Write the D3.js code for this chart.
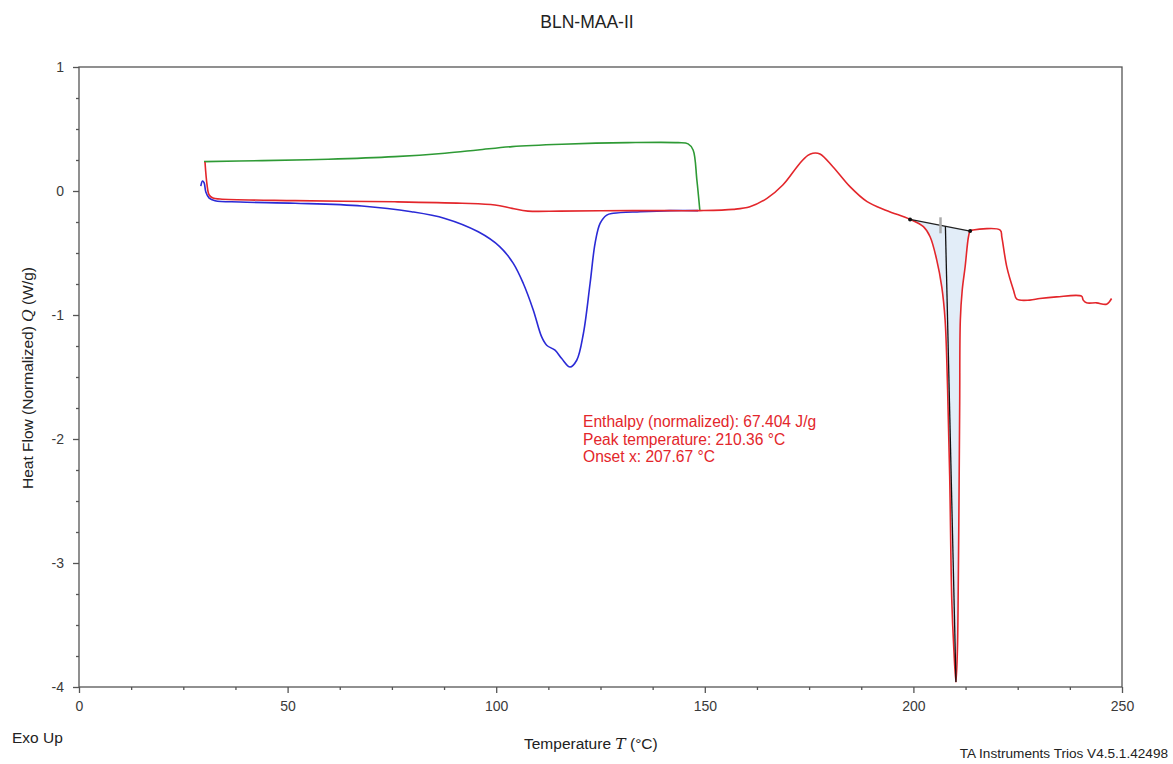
<!DOCTYPE html>
<html><head><meta charset="utf-8">
<script src="https://cdn.jsdelivr.net/npm/d3@7"></script>
<style>
body{margin:0;background:#fff;}
svg{font-family:"Liberation Sans",Arial,sans-serif;}
</style></head>
<body><svg id="c" width="1173" height="764"></svg>
<script>
// ---- data ----
const title = "BLN-MAA-II";
const xTicks = [0, 50, 100, 150, 200, 250];
const yTicks = [-4, -3, -2, -1, 0, 1];

// first heating (blue)
const blueT = [29.2, 29.6, 30.0, 30.4, 31.2, 32.6, 38.6, 51.8, 67.8, 79.7, 87.7, 95.7, 100.9, 104.1, 106.5, 108.9, 110.9, 112.1, 114.1, 115.7, 117.7, 119.3, 120.9, 122.5, 123.7, 124.9, 126.5, 128.1, 134.5, 141.7, 148.4];
const blueQ = [0.040, 0.081, 0.065, -0.008, -0.057, -0.078, -0.089, -0.099, -0.121, -0.167, -0.221, -0.329, -0.450, -0.584, -0.746, -0.961, -1.177, -1.244, -1.284, -1.351, -1.419, -1.365, -1.149, -0.746, -0.422, -0.261, -0.194, -0.180, -0.167, -0.158, -0.158];

// cooling (green)
const greenT = [29.96, 43.9, 59.7, 75.7, 87.7, 95.6, 103.8, 115.8, 131.6, 143.6, 146.0, 147.2, 148.1, 148.8];
const greenQ = [0.237, 0.245, 0.256, 0.277, 0.305, 0.331, 0.358, 0.377, 0.390, 0.390, 0.380, 0.331, 0.089, -0.153];

// second heating (red)
const redT = [30.2, 30.7, 31.2, 32.1, 33.8, 51.8, 75.7, 91.8, 99.7, 103.8, 107.6, 115.3, 124.9, 136.9, 148.8, 156.8, 160.8, 164.9, 168.7, 172.8, 174.7, 175.9, 177.6, 180.7, 184.8, 188.9, 193.7, 199.2, 202.4, 204.0, 205.6, 206.8, 207.6, 208.2, 208.7, 209.2, 209.7, 210.2, 210.55, 210.75, 210.95, 211.1, 211.25, 211.7, 212.4, 213.2, 213.6, 214.3, 220.8, 221.2, 222.4, 224.0, 224.8, 227.9, 230.3, 234.3, 240.3, 240.7, 241.5, 243.9, 246.3, 247.5];
const redQ = [0.234, 0.048, -0.032, -0.057, -0.065, -0.078, -0.087, -0.099, -0.113, -0.140, -0.162, -0.162, -0.159, -0.158, -0.158, -0.148, -0.127, -0.059, 0.048, 0.224, 0.287, 0.305, 0.299, 0.196, 0.035, -0.086, -0.159, -0.229, -0.288, -0.369, -0.557, -0.773, -1.04, -1.6, -2.3, -3.3, -3.7, -3.96, -3.7, -3.2, -2.4, -1.7, -1.04, -0.80, -0.611, -0.369, -0.323, -0.315, -0.315, -0.372, -0.614, -0.80, -0.872, -0.880, -0.867, -0.854, -0.848, -0.880, -0.902, -0.902, -0.913, -0.867];

// integration results
const baselineT = [199.2, 213.6];
const baselineQ = [-0.229, -0.323];
const onsetT = 207.67;
const peakT = 210.2;
const peakQ = -3.96;
const markerT = 206.5;
const annotation = ["Enthalpy (normalized): 67.404 J/g", "Peak temperature: 210.36 \u00B0C", "Onset x: 207.67 \u00B0C"];

// ---- drawing ----
const svg = d3.select("#c");
const x = d3.scaleLinear().domain([0, 250]).range([79, 1122]);
const y = d3.scaleLinear().domain([-4, 1]).range([687, 67]);
const axisCol = "#555";
const textCol = "#3a3a3a";

const zip = (a, b) => a.map((v, i) => [v, b[i]]);
const line = d3.line().x(d => x(d[0])).y(d => y(d[1])).curve(d3.curveCatmullRom.alpha(0.5));

const bl = t => baselineQ[0] + (t - baselineT[0]) / (baselineT[1] - baselineT[0]) * (baselineQ[1] - baselineQ[0]);

// shaded integration area
const redPts = zip(redT, redQ);
const areaPts = redPts.filter(d => d[0] >= baselineT[0] && d[0] <= baselineT[1]);
svg.append("path")
  .datum(areaPts)
  .attr("d", d3.area().x(d => x(d[0])).y0(d => y(bl(d[0]))).y1(d => y(d[1])).curve(d3.curveCatmullRom.alpha(0.5)))
  .attr("fill", "#e2edf8").attr("stroke", "none");

// frame
svg.append("rect").attr("x", x(0)).attr("y", y(1)).attr("width", x(250) - x(0)).attr("height", y(-4) - y(1))
  .attr("fill", "none").attr("stroke", axisCol).attr("stroke-width", 1.3);

// axes
const minorX = d3.range(0, 250.01, 12.5).filter(v => v % 50 !== 0);
const minorY = d3.range(-4, 1.001, 0.25).filter(v => Math.abs(v - Math.round(v)) > 1e-6);
const fmt = d => String(d);

function styleAxis(g) {
  g.select(".domain").remove();
  g.selectAll("line").attr("stroke", axisCol).attr("stroke-width", 1.3);
  g.selectAll("text").attr("fill", textCol).attr("font-size", 14).attr("font-family", "Liberation Sans, Arial, sans-serif");
}
svg.append("g").attr("transform", `translate(0,${y(-4)})`)
  .call(d3.axisBottom(x).tickValues(xTicks).tickSize(6).tickSizeOuter(0).tickPadding(8).tickFormat(fmt))
  .call(styleAxis);
svg.append("g").attr("transform", `translate(0,${y(-4)})`)
  .call(d3.axisBottom(x).tickValues(minorX).tickSize(3).tickSizeOuter(0).tickFormat(""))
  .call(styleAxis);
svg.append("g").attr("transform", `translate(${x(0)},0)`)
  .call(d3.axisLeft(y).tickValues(yTicks).tickSize(6).tickSizeOuter(0).tickPadding(9).tickFormat(fmt))
  .call(styleAxis);
svg.append("g").attr("transform", `translate(${x(0)},0)`)
  .call(d3.axisLeft(y).tickValues(minorY).tickSize(3).tickSizeOuter(0).tickFormat(""))
  .call(styleAxis);

// curves
svg.append("path").datum(zip(greenT, greenQ)).attr("d", line)
  .attr("fill", "none").attr("stroke", "#2e9a35").attr("stroke-width", 1.6);
svg.append("path").datum(zip(blueT, blueQ)).attr("d", line)
  .attr("fill", "none").attr("stroke", "#2a2ad6").attr("stroke-width", 1.6);
svg.append("path").datum(redPts).attr("d", line)
  .attr("fill", "none").attr("stroke", "#e3262b").attr("stroke-width", 1.6);

// baseline, marker, onset line
svg.append("line").attr("x1", x(baselineT[0])).attr("y1", y(baselineQ[0])).attr("x2", x(baselineT[1])).attr("y2", y(baselineQ[1]))
  .attr("stroke", "#222").attr("stroke-width", 1.2);
svg.append("line").attr("x1", x(markerT)).attr("x2", x(markerT)).attr("y1", y(bl(markerT)) - 8).attr("y2", y(bl(markerT)) + 8)
  .attr("stroke", "#aaa").attr("stroke-width", 2.5);
svg.append("line").attr("x1", x(onsetT)).attr("y1", y(bl(onsetT))).attr("x2", x(peakT)).attr("y2", y(peakQ))
  .attr("stroke", "#111").attr("stroke-width", 1.3);
svg.selectAll(".bdot").data(zip(baselineT, baselineQ)).enter().append("circle")
  .attr("cx", d => x(d[0])).attr("cy", d => y(d[1])).attr("r", 2).attr("fill", "#111");

// annotation
const ann = svg.append("text").attr("x", 583).attr("y", 427).attr("fill", "#e3262b").attr("font-size", 15.6);
annotation.forEach((s, i) => ann.append("tspan").attr("x", 583).attr("dy", i === 0 ? 0 : 17.5).text(s));

// titles
svg.append("text").attr("x", 587).attr("y", 28).attr("text-anchor", "middle").attr("font-size", 17.5).attr("fill", "#222").text(title);

const yl = svg.append("text").attr("transform", "translate(33,378) rotate(-90)").attr("text-anchor", "middle")
  .attr("font-size", 15.5).attr("fill", "#222");
yl.append("tspan").text("Heat Flow (Normalized) ");
yl.append("tspan").attr("font-style", "italic").attr("font-family", "DejaVu Serif, serif").text("Q");
yl.append("tspan").text(" (W/g)");

const xl = svg.append("text").attr("x", 524).attr("y", 749).attr("font-size", 15.5).attr("fill", "#222");
xl.append("tspan").text("Temperature ");
xl.append("tspan").attr("font-style", "italic").attr("font-family", "DejaVu Serif, serif").text("T");
xl.append("tspan").text(" (\u00B0C)");

svg.append("text").attr("x", 12).attr("y", 743).attr("font-size", 15.5).attr("fill", "#222").text("Exo Up");
svg.append("text").attr("x", 1168).attr("y", 758).attr("text-anchor", "end").attr("font-size", 13.6).attr("fill", "#222").text("TA Instruments Trios V4.5.1.42498");
</script></body></html>
